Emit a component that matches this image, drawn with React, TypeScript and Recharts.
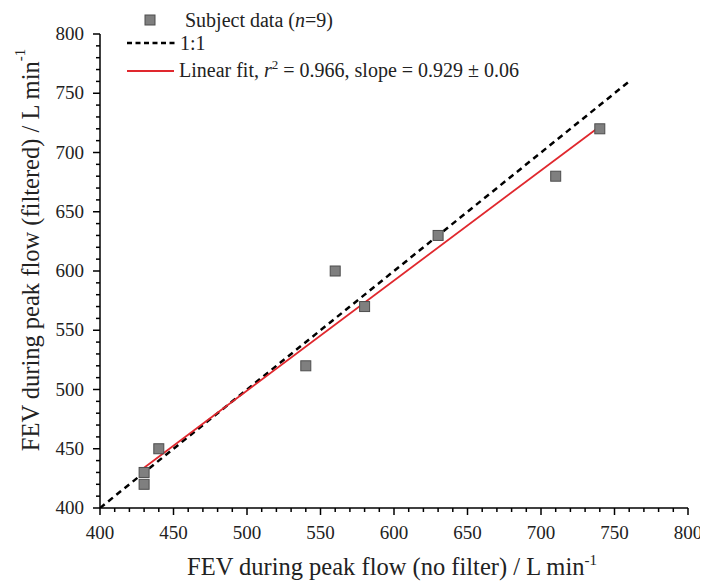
import React from 'react';
import { ScatterChart, Scatter, XAxis, YAxis, Legend } from 'recharts';

// Subject data
const subjectX = [430, 430, 440, 540, 560, 580, 630, 710, 740];
const subjectY = [420, 430, 450, 520, 600, 570, 630, 680, 720];

// 1:1 reference line ends
const identityEnds = [400, 760];

// Linear fit ends
const fitX = [430, 740];
const fitY = [434, 722];

const majorTicks = [400, 450, 500, 550, 600, 650, 700, 750, 800];
const minorSteps = [0, 10, 20, 30, 40];

const allTicks = majorTicks.flatMap((t, i) =>
  i === majorTicks.length - 1 ? [t] : minorSteps.map((s) => t + s)
);

const subjectData = subjectX.map((x, i) => ({ x, y: subjectY[i] }));
const identityData = identityEnds.map((v) => ({ x: v, y: v }));
const fitData = fitX.map((x, i) => ({ x, y: fitY[i] }));

const FONT = '"Liberation Serif", "Times New Roman", serif';

const XTick = (props: any) => {
  const { x, y, payload } = props;
  const major = payload.value % 50 === 0;
  return (
    <g>
      <line x1={x} x2={x} y1={y} y2={y + (major ? 7 : 4)} stroke="#000" strokeWidth={1.5} />
      {major && (
        <text x={x} y={y + 31} textAnchor="middle" fontSize={19} fontFamily={FONT} fill="#222">
          {payload.value}
        </text>
      )}
    </g>
  );
};

const YTick = (props: any) => {
  const { x, y, payload } = props;
  const major = payload.value % 50 === 0;
  return (
    <g>
      <line x1={x - (major ? 7 : 4)} x2={x} y1={y} y2={y} stroke="#000" strokeWidth={1.5} />
      {major && (
        <text x={x - 16} y={y + 6} textAnchor="end" fontSize={19} fontFamily={FONT} fill="#222">
          {payload.value}
        </text>
      )}
    </g>
  );
};

const square = (props: any) => {
  const { cx, cy } = props;
  return <rect x={cx - 5} y={cy - 5} width={10} height={10} fill="#7f7f7f" stroke="#4d4d4d" strokeWidth={1} />;
};

const noShape = () => <g />;

const XTitle = (props: any) => {
  const vb = props.viewBox;
  return (
    <text x={vb.x + vb.width / 2 - 2} y={vb.y + 67} textAnchor="middle" fontSize={24.5} fontFamily={FONT} fill="#222">
      FEV during peak flow (no filter) / L min
      <tspan dy={-10} fontSize={15}>-1</tspan>
    </text>
  );
};

const YTitle = (props: any) => {
  const vb = props.viewBox;
  const cx = 22;
  const cy = vb.y + vb.height / 2 - 21;
  return (
    <text
      x={cx}
      y={cy}
      transform={`rotate(-90, ${cx}, ${cy})`}
      textAnchor="middle"
      dominantBaseline="central"
      fontSize={24.5}
      fontFamily={FONT}
      fill="#222"
    >
      FEV during peak flow (filtered) / L min
      <tspan dy={-10} fontSize={15}>-1</tspan>
    </text>
  );
};

const LegendBox = () => (
  <svg width={600} height={85} style={{ display: 'block' }}>
    <rect x={137} y={7} width={10} height={10} fill="#7f7f7f" stroke="#4d4d4d" strokeWidth={1} />
    <text x={177} y={19} fontSize={20} fontFamily={FONT} fill="#222">
      Subject data (<tspan fontStyle="italic">n</tspan>=9)
    </text>
    <line x1={119} x2={167} y1={35} y2={35} stroke="#000" strokeWidth={2.5} strokeDasharray="5 3.5" />
    <text x={172} y={42} fontSize={20} fontFamily={FONT} fill="#222">
      1:1
    </text>
    <line x1={119} x2={166} y1={63} y2={63} stroke="#e0282e" strokeWidth={1.8} />
    <text x={171} y={69} fontSize={20} fontFamily={FONT} fill="#222">
      Linear fit, <tspan fontStyle="italic">r</tspan>
      <tspan dy={-8} fontSize={13}>2</tspan>
      <tspan dy={8}> = 0.966, slope = 0.929 ± 0.06</tspan>
    </text>
  </svg>
);

export default function App() {
  return (
    <ScatterChart width={700} height={577} margin={{ top: 26, right: 20, bottom: 0, left: 0 }}>
      <XAxis
        type="number"
        dataKey="x"
        domain={[400, 800]}
        ticks={allTicks}
        interval={0}
        tick={<XTick />}
        tickLine={false}
        tickSize={0}
        tickMargin={0}
        height={77}
        axisLine={{ stroke: '#000', strokeWidth: 1.5 }}
        allowDataOverflow
        label={XTitle}
      />
      <YAxis
        type="number"
        dataKey="y"
        domain={[400, 800]}
        ticks={allTicks}
        interval={0}
        tick={<YTick />}
        tickLine={false}
        tickSize={0}
        tickMargin={0}
        width={92}
        axisLine={{ stroke: '#000', strokeWidth: 1.5 }}
        allowDataOverflow
        label={YTitle}
      />
      <Legend
        layout="vertical"
        align="center"
        verticalAlign="middle"
        content={LegendBox}
        wrapperStyle={{ position: 'absolute', top: 0, left: 0, width: 600 }}
      />
      <Scatter
        name="1:1"
        data={identityData}
        shape={noShape}
        line={{ stroke: '#000', strokeWidth: 2.5, strokeDasharray: '6 4.5' }}
        isAnimationActive={false}
      />
      <Scatter
        name="Linear fit"
        data={fitData}
        shape={noShape}
        line={{ stroke: '#e0282e', strokeWidth: 1.8 }}
        isAnimationActive={false}
      />
      <Scatter name="Subject data" data={subjectData} shape={square} isAnimationActive={false} />
    </ScatterChart>
  );
}
